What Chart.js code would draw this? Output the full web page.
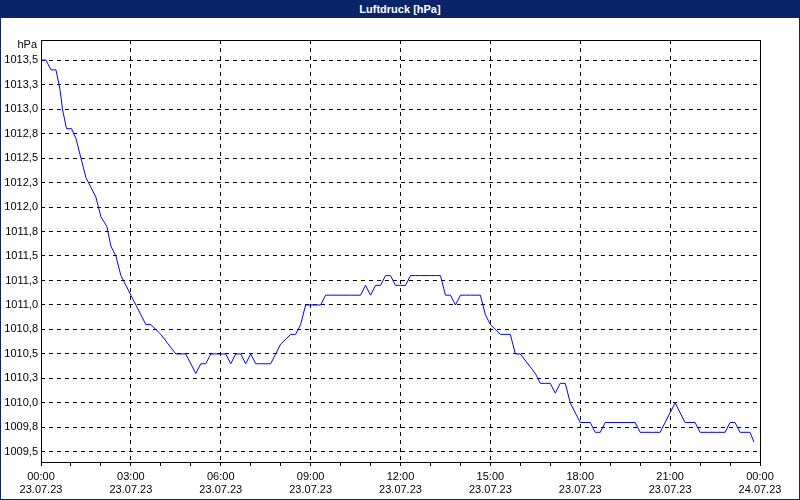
<!DOCTYPE html>
<html>
<head>
<meta charset="utf-8">
<script src="https://cdn.jsdelivr.net/npm/chart.js@4/dist/chart.umd.min.js"></script>
<style>
body{margin:0;background:#fff;}
#wrap{position:relative;width:798px;height:498px;border:1px solid #0a246a;}
#title{height:17px;background:#0a246a;color:#fff;font:bold 11px "Liberation Sans",Arial;text-align:center;line-height:17px;}
#box{position:absolute;left:0;top:17px;width:798px;height:481px;}
</style>
</head>
<body>
<div id="wrap">
<div id="title">Luftdruck [hPa]</div>
<div id="box"><canvas id="c"></canvas></div>
</div>
<script>
// Minuten seit 00:00 am 23.07.23
const minutes = [0,10,20,30,38,43,51,61,70,80,90,100,110,120,132,140,150,160,170,180,190,200,210,220,240,270,290,310,320,330,340,370,380,390,400,410,420,430,440,450,460,480,500,510,520,530,560,570,580,600,620,640,650,660,670,680,690,700,710,720,730,740,750,760,780,790,800,810,820,830,840,850,860,870,880,890,900,920,940,950,960,990,1000,1010,1020,1030,1040,1050,1060,1080,1100,1110,1120,1130,1190,1200,1240,1270,1290,1310,1320,1370,1380,1390,1400,1420,1428];
const pressure = [1013.5,1013.5,1013.4,1013.4,1013.2,1013.0,1012.8,1012.8,1012.7,1012.5,1012.3,1012.2,1012.1,1011.9,1011.8,1011.6,1011.5,1011.3,1011.2,1011.1,1011.0,1010.9,1010.8,1010.8,1010.7,1010.5,1010.5,1010.3,1010.4,1010.4,1010.5,1010.5,1010.4,1010.5,1010.5,1010.4,1010.5,1010.4,1010.4,1010.4,1010.4,1010.6,1010.7,1010.7,1010.8,1011.0,1011.0,1011.1,1011.1,1011.1,1011.1,1011.1,1011.2,1011.1,1011.2,1011.2,1011.3,1011.3,1011.2,1011.2,1011.2,1011.3,1011.3,1011.3,1011.3,1011.3,1011.3,1011.1,1011.1,1011.0,1011.1,1011.1,1011.1,1011.1,1011.1,1010.9,1010.8,1010.7,1010.7,1010.5,1010.5,1010.3,1010.2,1010.2,1010.2,1010.1,1010.2,1010.2,1010.0,1009.8,1009.8,1009.7,1009.7,1009.8,1009.8,1009.7,1009.7,1010.0,1009.8,1009.8,1009.7,1009.7,1009.8,1009.8,1009.7,1009.7,1009.6];
const yTicks = [1009.5,1009.75,1010,1010.25,1010.5,1010.75,1011,1011.25,1011.5,1011.75,1012,1012.25,1012.5,1012.75,1013,1013.25,1013.5];

const points = minutes.map((m,i)=>({x:m/60,y:pressure[i]}));
const font = {family:'"Liberation Sans", Arial', size:11};

const frame = {
  id:'frame',
  afterDraw(chart){
    const a = chart.chartArea, ctx = chart.ctx;
    ctx.save();
    ctx.strokeStyle='#000'; ctx.lineWidth=1;
    ctx.strokeRect(a.left+0.5,a.top+0.5,a.right-a.left,a.bottom-a.top);
    ctx.fillStyle='#000'; ctx.font='11px "Liberation Sans", Arial';
    ctx.textAlign='right'; ctx.fillText('hPa',36,a.top+8);
    ctx.restore();
  }
};

new Chart(document.getElementById('c'),{
  type:'line',
  data:{datasets:[{data:points,borderColor:'#0000ff',borderWidth:1,pointRadius:0,tension:0,fill:false}]},
  options:{
    responsive:true,maintainAspectRatio:false,animation:false,
    layout:{padding:{top:22,right:39,left:0,bottom:0}},
    plugins:{legend:{display:false},tooltip:{enabled:false}},
    scales:{
      x:{type:'linear',min:0,max:24,
        afterBuildTicks(s){s.ticks=[];for(let h=0;h<=24;h++)s.ticks.push({value:h});},
        afterFit(s){s.height=37;},
        ticks:{autoSkip:false,maxRotation:0,color:'#000',font,padding:4,
          callback(v){if(v%3!==0)return '';const h=v%24;const d=v===24?'24.07.23':'23.07.23';return [String(h).padStart(2,'0')+':00',d];}},
        grid:{color:c=>(c.tick&&c.tick.value%3===0&&c.tick.value>0&&c.tick.value<24)?'#000':'rgba(0,0,0,0)',
          tickColor:'#000',tickLength:4,drawTicks:true,lineWidth:1},
        border:{display:false,dash:[4,4]}
      },
      y:{min:1009.397,max:1013.705,
        afterBuildTicks(s){s.ticks=yTicks.map(v=>({value:v}));},
        afterFit(s){s.width=40;},
        ticks:{color:'#000',font,padding:3,callback:v=>v.toFixed(1).replace('.',',')},
        grid:{color:'#000',drawTicks:false,lineWidth:1},
        border:{display:false,dash:[4,4]}
      }
    }
  },
  plugins:[frame]
});
</script>
</body>
</html>
